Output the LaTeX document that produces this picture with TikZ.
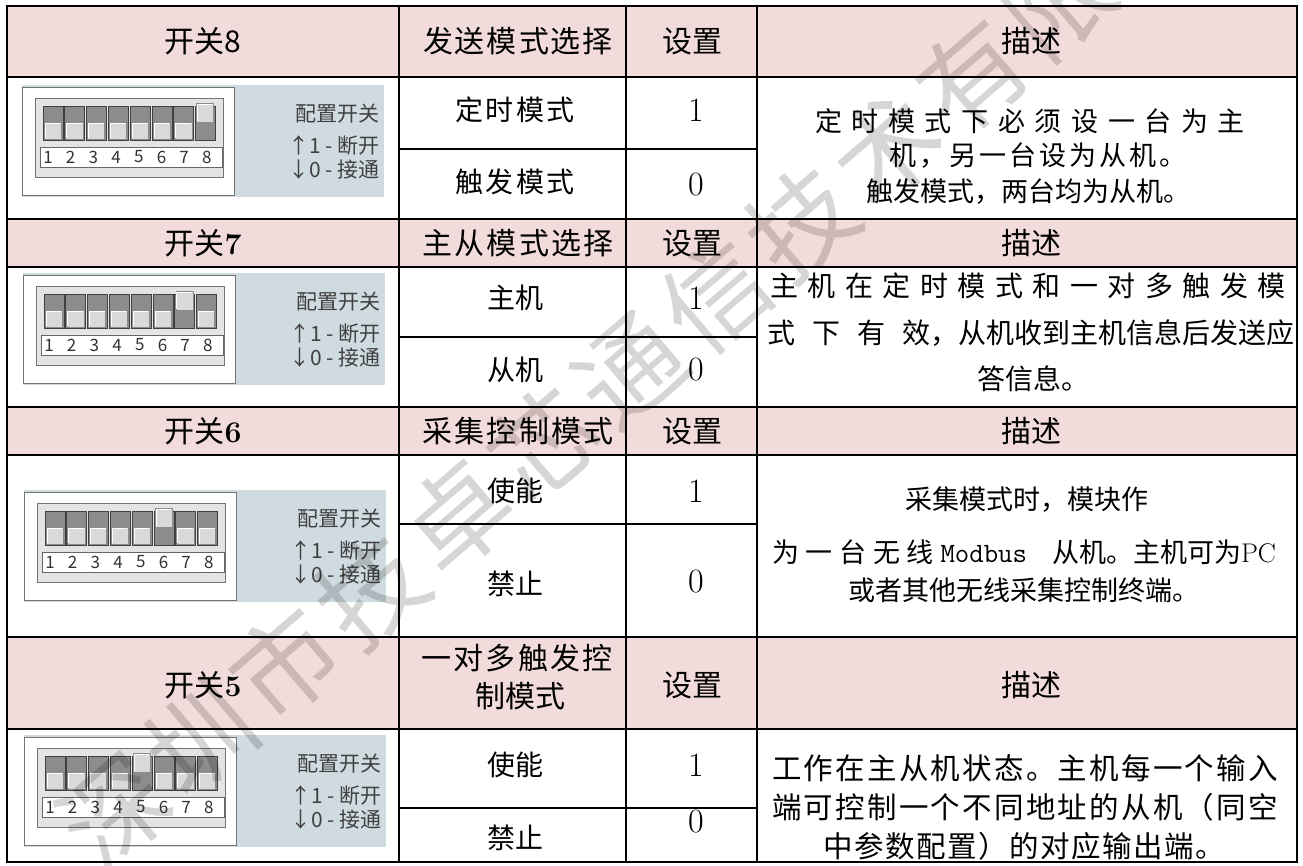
\documentclass[tikz,border=0pt]{standalone}
\usepackage{fontspec}
\newfontfamily\cjk{Noto Sans CJK SC}
\newcommand\fs[1]{\fontsize{#1}{#1}\selectfont}
\makeatletter
\newcommand\spread[2]{\makebox[#1pt][s]{\let\sp@first\relax\@tfor\sp@c:=#2\do{\ifx\sp@first\relax\let\sp@first\@empty\else\hfill\fi\sp@c}}}
\makeatother
\definecolor{hdrfill}{HTML}{F2DCDB}
\definecolor{dipbgc}{HTML}{D0DBE1}
\definecolor{housing}{HTML}{E4E4E4}
\definecolor{slotgray}{HTML}{8C8C8C}
\definecolor{knobc}{HTML}{D9D9D9}
\tikzset{
  tbl/.style={line width=2pt, draw=black},
  hdr/.style={font=\cjk\fs{30}, inner sep=0pt},
  bod/.style={font=\cjk\fs{28}, inner sep=0pt},
  dig/.style={font=\rmfamily\fs{34}, inner sep=0pt},
  desc/.style={font=\cjk\fs{27}, inner sep=0pt},
  desctwo/.style={font=\cjk\fs{28}, inner sep=0pt},
  descfour/.style={font=\cjk\fs{29.5}, inner sep=0pt},
  diptxt/.style={font=\cjk\fs{21}, text=black!75, inner sep=0pt},
  dipnum/.style={font=\cjk\fs{17}, text=black!80, inner sep=0pt},
  wm/.style={font=\cjk\fs{105}, text=black, text opacity=0.16, inner sep=0pt, rotate=40.6}
}
\newcommand\dipsw[4]{%
\begin{scope}[shift={(#1,#2)}]
\fill[dipbgc] (0,0) rectangle (362,112);
\draw[fill=white, draw=black!55, line width=1pt] (0,2) rectangle (212,110);
\draw[fill=housing, draw=black!55, line width=1pt] (13,13) rectangle (201,92);
\draw[fill=white, draw=black!60, line width=0.8pt] (18,62) rectangle (200,82);
\foreach \i in {1,...,8}{%
  \pgfmathsetmacro\cx{31+21.8*(\i-1)}%
  \pgfmathsetmacro\nx{26+22.7*(\i-1)}%
  \draw[fill=slotgray, draw=black!75, line width=0.8pt] (\cx-10,21) rectangle (\cx+10,55);
  \ifnum\i=#3\relax
    \draw[fill=knobc, draw=black!45, line width=0.6pt] (\cx-9,18) rectangle (\cx+8,37);
    \draw[white, line width=1pt] (\cx-8,36) -- (\cx-8,19) -- (\cx+7,19);
  \else
    \draw[fill=knobc, draw=black!45, line width=0.6pt] (\cx-9,37) rectangle (\cx+8,54);
    \draw[white, line width=1pt] (\cx-8,53) -- (\cx-8,38) -- (\cx+7,38);
  \fi
  \node[dipnum] (#4n\i) at (\nx,72) {\cjk\fs{17}\i};
}
\node[diptxt, anchor=east] (#4a) at (358,29) {配置开关};
\node[diptxt, anchor=east] (#4b) at (358,61) {↑1 - 断开};
\node[diptxt, anchor=east] (#4c) at (358,85) {↓0 - 接通};
\end{scope}}
\begin{document}
\begin{tikzpicture}[x=1pt,y=-1pt]
\useasboundingbox (0,0) rectangle (1303,865);
\fill[white] (0,0) rectangle (1303,865);
% header fills
\fill[hdrfill] (7,6) rectangle (1297,77);
\fill[hdrfill] (7,219) rectangle (1297,267);
\fill[hdrfill] (7,407) rectangle (1297,455);
\fill[hdrfill] (7,637) rectangle (1297,729);
% DIP switch pictures
\dipsw{22}{85}{8}{sa}
\dipsw{23}{273}{7}{sb}
\dipsw{24}{490}{6}{sc}
\dipsw{24}{735}{5}{sd}
% grid
\draw[tbl] (7,6) rectangle (1297,862);
\foreach \y in {77,219,267,407,455,637,729} \draw[tbl] (7,\y) -- (1297,\y);
\foreach \x in {399,626,757} \draw[tbl] (\x,6) -- (\x,862);
\foreach \y in {149,337,524,808} \draw[tbl] (399,\y) -- (757,\y);
% headers
\node[hdr] (h1a) at (203,41.5) {开关8};
\node[hdr] (h1b) at (518,41.5) {\spread{190}{发送模式选择}};
\node[hdr] (h1c) at (692,41.5) {设置};
\node[hdr] (h1d) at (1031,41.5) {描述};
\node[hdr] (h2a) at (203,243) {开关{\rmfamily\bfseries 7}};
\node[hdr] (h2b) at (518,243) {\spread{191}{主从模式选择}};
\node[hdr] (h2c) at (692,243) {设置};
\node[hdr] (h2d) at (1031,243) {描述};
\node[hdr] (h3a) at (203,431) {开关{\rmfamily\bfseries 6}};
\node[hdr] (h3b) at (518,431) {\spread{191}{采集控制模式}};
\node[hdr] (h3c) at (692,431) {设置};
\node[hdr] (h3d) at (1031,431) {描述};
\node[hdr] (h4a) at (203,685) {开关{\rmfamily\bfseries 5}};
\node[hdr] (h4b) at (517,658) {\spread{191}{一对多触发控}};
\node[hdr] (h4bb) at (520,696) {制模式};
\node[hdr] (h4c) at (692,685) {设置};
\node[hdr] (h4d) at (1031,685) {描述};
% column 2
\node[bod] (r1a) at (515,110) {\spread{120}{定时模式}};
\node[bod] (r1b) at (515,182) {\spread{120}{触发模式}};
\node[bod] (r2a) at (515,298) {主机};
\node[bod] (r2b) at (515,370) {从机};
\node[bod] (r3a) at (515,491) {使能};
\node[bod] (r3b) at (515,584) {禁止};
\node[bod] (r4a) at (515,765) {使能};
\node[bod] (r4b) at (515,838) {禁止};
% column 3
\node[dig] (v1a) at (696,110) {1};
\node[dig] (v1b) at (696,185) {0};
\node[dig] (v2a) at (696,298) {1};
\node[dig] (v2b) at (696,370) {0};
\node[dig] (v3a) at (696,491) {1};
\node[dig] (v3b) at (696,582) {0};
\node[dig] (v4a) at (696,765) {1};
\node[dig] (v4b) at (696,822) {0};
% descriptions
\node[desc] (d1a) at (1030,121) {\spread{430}{定时模式下必须设一台为主}};
\node[desc] (d1b) at (1038,156) {\spread{297}{机，另一台设为从机。}};
\node[desc] (d1c) at (1028,192) {触发模式，两台均为从机。};
\node[desctwo] (d2a) at (1028,286) {\spread{515}{主机在定时模式和一对多触发模}};
\node[desctwo] (d2b) at (1031,333) {\makebox[527pt][s]{式\hfill 下\hfill 有\hfill 效，从机收到主机信息后发送应}};
\node[desctwo] (d2c) at (1033,379) {答信息。};
\node[desc] (d3a) at (1027,500) {采集模式时，模块作};
\node[desc] (d3b) at (1024,552) {\makebox[504pt][s]{为\hfill 一\hfill 台\hfill 无\hfill 线\hfill{\ttfamily\fs{28}Modbus}\hspace{25pt}从机。主机可为{\rmfamily PC}}};
\node[desc] (d3c) at (1024,590) {或者其他无线采集控制终端。};
\node[descfour] (d4a) at (1025,768) {\spread{506}{工作在主从机状态。主机每一个输入}};
\node[descfour] (d4b) at (1025,807) {\spread{506}{端可控制一个不同地址的从机（同空}};
\node[descfour] (d4c) at (1024,846) {\spread{402}{中参数配置）的对应输出端。}};
% watermark
\node[wm] (wmk) at (672,333) {\spread{1575}{深圳市技卓芯通信技术有限公司}};
\end{tikzpicture}
\end{document}
